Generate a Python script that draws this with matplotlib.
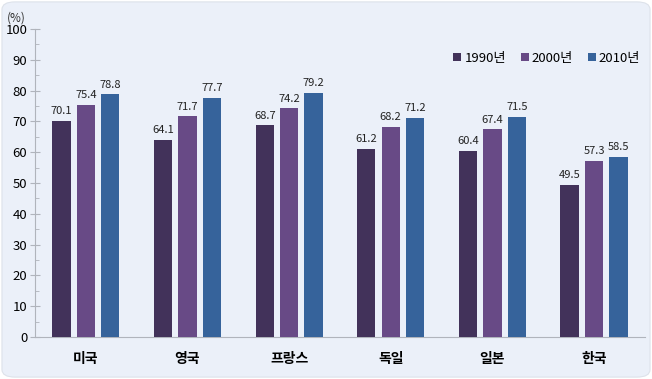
import matplotlib
matplotlib.use("Agg")
import matplotlib.pyplot as plt
import numpy as np
from matplotlib.patches import FancyBboxPatch
from matplotlib.ticker import MultipleLocator

plt.rcParams['font.family'] = ['Noto Sans CJK KR', 'DejaVu Sans']

categories = ['미국', '영국', '프랑스', '독일', '일본', '한국']
series_names = ['1990년', '2000년', '2010년']
v1990 = [70.1, 64.1, 68.7, 61.2, 60.4, 49.5]
v2000 = [75.4, 71.7, 74.2, 68.2, 67.4, 57.3]
v2010 = [78.8, 77.7, 79.2, 71.2, 71.5, 58.5]
colors = ['#42325a', '#684a86', '#36639b']
bg = '#ebf0f9'

fig = plt.figure(figsize=(6.52, 3.79), dpi=100)
fig.patch.set_facecolor('white')
border = FancyBboxPatch((0.003, 0.005), 0.994, 0.99, boxstyle="round,pad=0,rounding_size=0.02",
                        transform=fig.transFigure, facecolor=bg, edgecolor='#dde2ea', linewidth=0.8,
                        zorder=-10)
fig.patches.append(border)

ax = fig.add_axes([0.0537, 0.1108, 0.9353, 0.8127])
ax.set_facecolor('none')
x = np.arange(len(categories))
w = 0.18
step = 0.24
for i, (vals, name, c) in enumerate(zip([v1990, v2000, v2010], series_names, colors)):
    pos = x + (i - 1) * step
    ax.bar(pos, vals, width=w, color=c, label=name, zorder=3)
    for p, v in zip(pos, vals):
        ax.text(p, v + 1.5, f'{v:.1f}', ha='center', va='bottom', fontsize=8, color='#222222')

ax.set_xlim(-0.5, len(categories) - 0.5)
ax.set_ylim(0, 100)
ax.yaxis.set_major_locator(MultipleLocator(10))
ax.yaxis.set_minor_locator(MultipleLocator(5))
ax.set_xticks(x)
ax.set_xticklabels(categories, fontsize=10, fontweight='bold')
ax.tick_params(axis='x', length=0, pad=11)
ax.tick_params(axis='y', which='major', length=7, color='#b0b4bc', labelsize=9.5, pad=2, direction='inout')
ax.tick_params(axis='y', which='minor', length=3, color='#b0b4bc', direction='in')
for s in ['top', 'right']:
    ax.spines[s].set_visible(False)
ax.spines['left'].set_color('#b0b4bc')
ax.spines['bottom'].set_color('#b0b4bc')
ax.text(-0.015, 1.035, '(%)', transform=ax.transAxes, ha='right', va='center', fontsize=8.5, color='#333333')

leg = ax.legend(loc='upper right', bbox_to_anchor=(1.012, 0.965), ncol=3, frameon=False, fontsize=9.5,
                handlelength=0.6, handleheight=0.6, handletextpad=0.25, columnspacing=1.1)

fig.savefig('out.png', dpi=100, facecolor=fig.get_facecolor())
